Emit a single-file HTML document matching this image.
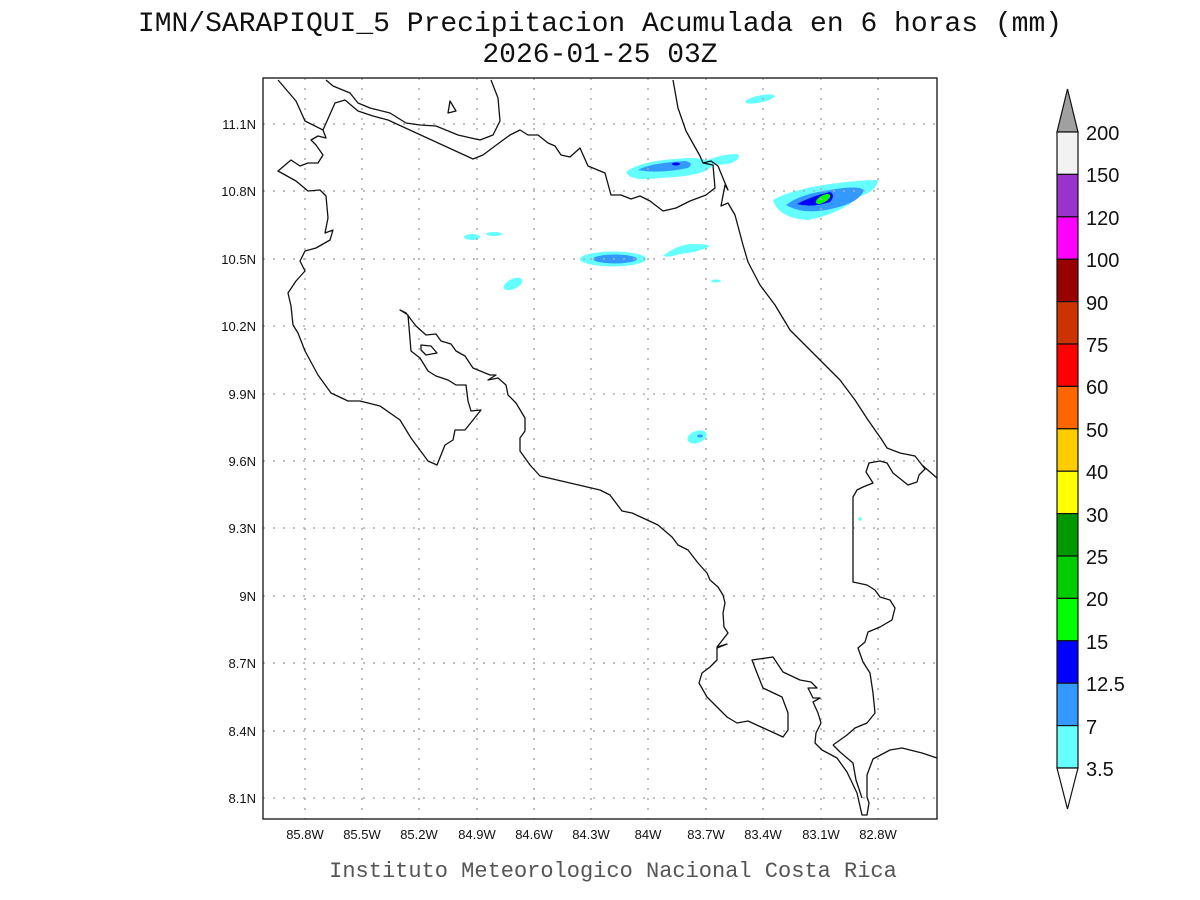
<!DOCTYPE html>
<html><head><meta charset="utf-8"><style>
html,body{margin:0;padding:0;background:#fff;}
svg{display:block;}
</style></head><body>
<svg width="1200" height="900" xmlns="http://www.w3.org/2000/svg">
<rect width="1200" height="900" fill="#fff"/>
<g font-family="Liberation Mono, monospace" font-size="28" fill="#111" text-anchor="middle">
<text x="600" y="31">IMN/SARAPIQUI_5 Precipitacion Acumulada en 6 horas (mm)</text>
<text x="600" y="62">2026-01-25 03Z</text>
</g>
<text x="613" y="877" font-family="Liberation Mono, monospace" font-size="22" fill="#555" text-anchor="middle">Instituto Meteorologico Nacional Costa Rica</text>

<!-- precip -->
<g>
<path d="M626,172 Q640,160 690,158 Q712,158 712,166 Q705,176 660,178 Q630,182 626,172Z" fill="#66ffff"/>
<path d="M638,170 Q650,163 685,161 Q695,163 688,168 Q660,174 638,170Z" fill="#3399ff"/>
<ellipse cx="676" cy="164" rx="4" ry="1.5" fill="#0000ff"/>
<path d="M703,162 Q720,154 738,154 Q742,160 728,164 Q712,166 703,162Z" fill="#66ffff"/>
<path d="M773,200 Q790,190 830,184 Q860,180 878,180 Q876,192 860,196 Q840,214 808,220 Q778,218 773,200Z" fill="#66ffff"/>
<path d="M786,205 Q800,194 830,190 Q858,185 864,190 Q860,202 835,208 Q805,216 786,205Z" fill="#3399ff"/>
<path d="M797,204 Q812,196 830,192 Q836,195 830,202 Q812,208 797,204Z" fill="#0000ff"/>
<ellipse cx="823" cy="199" rx="8" ry="3.5" transform="rotate(-30 823 199)" fill="#00ff00"/>
<ellipse cx="760" cy="99" rx="15" ry="3.5" transform="rotate(-12 760 99)" fill="#66ffff"/>
<ellipse cx="613" cy="259" rx="33" ry="7.5" fill="#66ffff"/>
<ellipse cx="615" cy="259" rx="22" ry="4.5" fill="#3399ff"/>
<path d="M663,256 Q675,246 690,244 Q708,244 710,246 Q700,252 680,254 Q668,258 663,256Z" fill="#66ffff"/>
<ellipse cx="472" cy="237" rx="8" ry="3" fill="#66ffff"/>
<ellipse cx="494" cy="234" rx="8" ry="2" fill="#66ffff"/>
<ellipse cx="513" cy="284" rx="10" ry="5" transform="rotate(-25 513 284)" fill="#66ffff"/>
<ellipse cx="697" cy="437" rx="10" ry="6" transform="rotate(-20 697 437)" fill="#66ffff"/>
<ellipse cx="700" cy="436" rx="3" ry="1.5" fill="#3399ff"/>
<ellipse cx="716" cy="281" rx="5" ry="1.5" fill="#66ffff"/>
<circle cx="860" cy="519" r="1.8" fill="#66ffff"/>
</g>

<!-- grid -->
<g stroke="#aaa" stroke-width="1.5" stroke-dasharray="2,8">
<line x1="305" y1="78" x2="305" y2="819"/><line x1="362" y1="78" x2="362" y2="819"/>
<line x1="419" y1="78" x2="419" y2="819"/><line x1="477" y1="78" x2="477" y2="819"/>
<line x1="534" y1="78" x2="534" y2="819"/><line x1="591" y1="78" x2="591" y2="819"/>
<line x1="648" y1="78" x2="648" y2="819"/><line x1="706" y1="78" x2="706" y2="819"/>
<line x1="763" y1="78" x2="763" y2="819"/><line x1="821" y1="78" x2="821" y2="819"/>
<line x1="878" y1="78" x2="878" y2="819"/>
<line x1="263" y1="124" x2="937" y2="124"/><line x1="263" y1="191" x2="937" y2="191"/>
<line x1="263" y1="259" x2="937" y2="259"/><line x1="263" y1="326" x2="937" y2="326"/>
<line x1="263" y1="394" x2="937" y2="394"/><line x1="263" y1="461" x2="937" y2="461"/>
<line x1="263" y1="528" x2="937" y2="528"/><line x1="263" y1="596" x2="937" y2="596"/>
<line x1="263" y1="663" x2="937" y2="663"/><line x1="263" y1="731" x2="937" y2="731"/>
<line x1="263" y1="798" x2="937" y2="798"/>
</g>

<!-- coast -->
<g fill="none" stroke="#111" stroke-width="1.3" stroke-linejoin="round">
<polyline points="278,80 296,101 305,121 323,130 326,138 318,136 311,140 316,145 323,155 318,163 308,163 300,166 291,160 278,171 296,181 308,191 320,190 326,196 328,218 325,233 333,230 330,240 316,248 305,251 300,261 305,271 296,281 288,293 291,306 293,325 298,333 305,351 318,375 331,393 348,401 360,401 380,406 400,420 411,438 428,461 437,465 445,445 453,440 455,430 465,430 481,410 471,411 468,401 466,385 456,385 448,380 436,376 428,371 420,358 411,351 408,315 400,310 406,313 416,326 426,335 436,334 441,341 451,344 456,351 465,356 473,368 490,375 496,375 488,380 498,378 506,385 508,395 516,403 525,418 525,431 520,438 520,451 530,465 540,476 600,490 610,495 622,511 632,513 658,525 672,537 678,545 688,550 698,563 707,573 710,580 718,587 723,595 725,603 723,613 724,627 728,633 717,647 727,644 717,648 717,660 710,667 702,673 699,683 707,697 715,705 727,717 737,723 748,721 783,737 788,730 788,713 782,697 763,688 757,673 752,660 773,657 783,672 800,680 811,682 817,688 808,688 813,698 820,698 813,702 818,713 821,723 816,733 815,743 822,750 837,758 847,772 857,793 862,815 867,815 869,803 867,797 867,775 873,759 890,750 902,748 922,753 937,758"/>
<polyline points="833,745 840,752 853,763 856,780 862,798"/>
<polyline points="833,745 847,735 855,728 867,723 875,713 873,693 870,673 863,662 858,648 865,642 868,632 880,627 892,620 895,608 890,600 880,597 875,590 867,585 853,582 853,497 857,490 863,487 873,483 866,472 869,463 880,461 887,463 893,473 908,485 917,482 919,475 925,469 922,465 937,478"/>
<polyline points="922,465 915,456 900,453 887,448 882,440 868,420 855,400 840,380 825,365 810,350 790,330 775,305 760,285 748,262 743,245 735,215 728,203 721,206 725,185 728,190 725,183 718,166 711,161 703,163 700,156 686,131 678,108 673,80"/>
<polyline points="323,130 335,103 345,100 358,111 373,116 388,120 473,159 483,155 495,146 510,135 520,130 528,135 538,135 548,143 555,146 561,155 570,157 580,148 588,166 605,173 611,195 621,195 631,199 640,196 650,201 663,211 676,208 690,201 706,195 715,188 713,165 703,163"/>
<polyline points="326,80 333,86 350,93 358,103 370,108 390,113 406,123 420,125 436,126 458,135 471,138 480,140 493,135 500,121 498,98 491,80"/>
<polygon points="450,101 456,111 448,113"/>
<polygon points="421,345 431,346 437,353 426,355 421,350"/>
</g>
<rect x="263" y="78" width="674" height="741" fill="none" stroke="#111" stroke-width="1.3"/>

<!-- axis labels -->
<g font-family="Liberation Sans, sans-serif" font-size="13" fill="#111">
<g text-anchor="end">
<text x="256" y="129">11.1N</text><text x="256" y="196">10.8N</text><text x="256" y="264">10.5N</text>
<text x="256" y="331">10.2N</text><text x="256" y="399">9.9N</text><text x="256" y="466">9.6N</text>
<text x="256" y="533">9.3N</text><text x="256" y="601">9N</text><text x="256" y="668">8.7N</text>
<text x="256" y="736">8.4N</text><text x="256" y="803">8.1N</text>
</g>
<g text-anchor="middle">
<text x="305" y="839">85.8W</text><text x="362" y="839">85.5W</text><text x="419" y="839">85.2W</text>
<text x="477" y="839">84.9W</text><text x="534" y="839">84.6W</text><text x="591" y="839">84.3W</text>
<text x="648" y="839">84W</text><text x="706" y="839">83.7W</text><text x="763" y="839">83.4W</text>
<text x="821" y="839">83.1W</text><text x="878" y="839">82.8W</text>
</g>
</g>

<!-- colorbar -->
<g stroke="#111" stroke-width="1.2">
<polygon points="1057,132 1078,132 1067.5,89" fill="#a0a0a0"/>
<rect x="1057" y="132" width="21" height="42.4" fill="#f2f2f2"/>
<rect x="1057" y="174.4" width="21" height="42.4" fill="#9933cc"/>
<rect x="1057" y="216.8" width="21" height="42.4" fill="#ff00ff"/>
<rect x="1057" y="259.2" width="21" height="42.4" fill="#990000"/>
<rect x="1057" y="301.6" width="21" height="42.4" fill="#cc3300"/>
<rect x="1057" y="344" width="21" height="42.4" fill="#ff0000"/>
<rect x="1057" y="386.4" width="21" height="42.4" fill="#ff6600"/>
<rect x="1057" y="428.8" width="21" height="42.4" fill="#ffcc00"/>
<rect x="1057" y="471.2" width="21" height="42.4" fill="#ffff00"/>
<rect x="1057" y="513.6" width="21" height="42.4" fill="#009900"/>
<rect x="1057" y="556" width="21" height="42.4" fill="#00cc00"/>
<rect x="1057" y="598.4" width="21" height="42.4" fill="#00ff00"/>
<rect x="1057" y="640.8" width="21" height="42.4" fill="#0000ff"/>
<rect x="1057" y="683.2" width="21" height="42.4" fill="#3399ff"/>
<rect x="1057" y="725.6" width="21" height="42.4" fill="#66ffff"/>
<polygon points="1057,768 1078,768 1067.5,809" fill="#fff"/>
</g>
<g font-family="Liberation Sans, sans-serif" font-size="20" fill="#111">
<text x="1086" y="140">200</text><text x="1086" y="182">150</text><text x="1086" y="225">120</text>
<text x="1086" y="267">100</text><text x="1086" y="310">90</text><text x="1086" y="352">75</text>
<text x="1086" y="394">60</text><text x="1086" y="437">50</text><text x="1086" y="479">40</text>
<text x="1086" y="522">30</text><text x="1086" y="564">25</text><text x="1086" y="606">20</text>
<text x="1086" y="649">15</text><text x="1086" y="691">12.5</text><text x="1086" y="734">7</text>
<text x="1086" y="776">3.5</text>
</g>
</svg>
</body></html>
